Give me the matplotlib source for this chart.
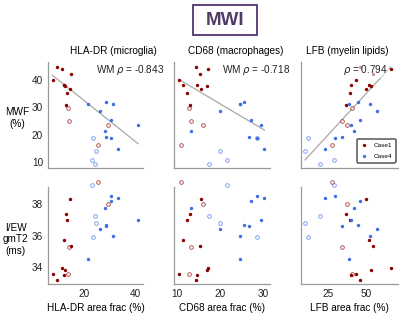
import numpy as np
import matplotlib
matplotlib.use('Agg')
import matplotlib.pyplot as plt
from matplotlib.patches import Rectangle
from matplotlib.lines import Line2D

plt.rcParams['font.family'] = ['Liberation Sans', 'DejaVu Sans']
plt.rcParams['mathtext.fontset'] = 'dejavusans'

# ---------------- data (per sample) ----------------
# Case1, white matter (filled)
c1_hla = [9.3, 11.3, 14.9, 7.5, 11.9, 12.0, 12.5, 14.5, 13.1, 13.0]
c1_cd68 = [14.4, 17.2, 15.4, 10.5, 11.5, 14.8, 17.1, 15.6, 12.4, 13.1]
c1_lfb = [46.3, 66.3, 54.8, 43.7, 52.3, 40.2, 53.6, 50.0, 39.7, 36.8]
c1_mwf = [44.6, 43.9, 42.2, 39.9, 38.2, 38.1, 37.9, 36.6, 35.3, 31.0]
c1_gmt2 = [33.22, 33.94, 35.37, 33.56, 35.75, 33.52, 33.84, 38.31, 36.98, 37.36]
# Case1, other (open)
c1o_hla = [25.5, 29.5, 14.1, 13.7]
c1o_cd68 = [10.9, 16.0, 13.3, 12.9]
c1o_lfb = [27.8, 37.5, 34.2, 41.2]
c1o_mwf = [16.4, 23.5, 25.1, 29.7]
c1o_gmt2 = [39.39, 37.99, 35.28, 33.61]
# Case4, white matter (filled)
c4_hla = [21.6, 31.5, 28.6, 26.3, 30.5, 41.3, 28.2, 28.6, 30.5, 33.5]
c4_cd68 = [24.5, 24.5, 25.4, 19.9, 27.2, 29.5, 13.4, 26.7, 28.5, 30.2]
c4_lfb = [38.9, 52.8, 44.6, 57.5, 46.3, 40.3, 42.4, 34.2, 29.6, 23.5]
c4_mwf = [31.2, 31.2, 31.8, 28.6, 25.2, 23.7, 21.5, 19.3, 18.9, 14.7]
c4_gmt2 = [34.51, 35.97, 36.67, 36.40, 38.22, 37.02, 37.74, 36.60, 38.54, 38.40]
# Case4, other (open)
c4o_hla = [23.4, 24.6, 23.2, 24.3]
c4o_cd68 = [28.5, 20.0, 21.7, 17.5]
c4o_lfb = [12.2, 10.1, 29.4, 19.9]
c4o_mwf = [18.8, 13.9, 10.6, 9.3]
c4o_gmt2 = [35.90, 36.79, 39.19, 37.27]

col_titles = ['HLA-DR (microglia)', 'CD68 (macrophages)', 'LFB (myelin lipids)']
x_labels = ['HLA-DR area frac (%)', 'CD68 area frac (%)', 'LFB area frac (%)']
rho_texts = [r'WM $\rho$ = -0.843', r'WM $\rho$ = -0.718', r'$\rho$ = 0.794']
x_ticks = [[20, 40], [10, 20, 30], [25, 50]]
mwf_ticks = [10, 20, 30, 40]
gmt2_ticks = [34, 36, 38]
legend_labels = ['Case1', 'Case4']

RED = '#8b0000'
BLUE = '#3f6fe6'
SPINE = '#9a9a9a'

xs = [(c1_hla, c1o_hla, c4_hla, c4o_hla),
      (c1_cd68, c1o_cd68, c4_cd68, c4o_cd68),
      (c1_lfb, c1o_lfb, c4_lfb, c4o_lfb)]
xlims = [(5.7, 43.2), (9.4, 31.5), (7.4, 71.2)]

W, H = 400, 313
fig = plt.figure(figsize=(4.0, 3.13), dpi=100)

lefts = [48, 174, 301]
widths = [95, 96, 97]
top_row = (62, 168)
bot_row = (187, 284)


def add_ax(l, w, row):
    t, b = row
    return fig.add_axes([l / W, (H - b) / H, w / W, (b - t) / H])


def style(ax):
    for s in ['top', 'right']:
        ax.spines[s].set_visible(False)
    for s in ['left', 'bottom']:
        ax.spines[s].set_color(SPINE)
        ax.spines[s].set_linewidth(0.9)
    ax.tick_params(length=0, labelsize=7.2, pad=3.5, colors='#222222')


FS = 7.2
for k in range(3):
    x1, x1o, x4, x4o = xs[k]
    for r, (yset, ylim, yt) in enumerate([
            ((c1_mwf, c1o_mwf, c4_mwf, c4o_mwf), (7.8, 46.6), mwf_ticks),
            ((c1_gmt2, c1o_gmt2, c4_gmt2, c4o_gmt2), (32.95, 39.09), gmt2_ticks)]):
        ax = add_ax(lefts[k], widths[k], top_row if r == 0 else bot_row)
        style(ax)
        y1, y1o, y4, y4o = yset
        ax.scatter(x1o, y1o, s=7, facecolors='white', edgecolors=RED,
                   linewidths=0.7, alpha=0.65, zorder=3, clip_on=False)
        ax.scatter(x4o, y4o, s=7, facecolors='white', edgecolors=BLUE,
                   linewidths=0.7, alpha=0.65, zorder=3, clip_on=False)
        ax.scatter(x1, y1, s=6, c=RED, linewidths=0, zorder=4, clip_on=False)
        ax.scatter(x4, y4, s=6, c=BLUE, linewidths=0, zorder=4, clip_on=False)
        ax.set_xlim(*xlims[k])
        ax.set_ylim(*ylim)
        ax.set_xticks(x_ticks[k])
        ax.set_yticks(yt)
        if k != 0:
            ax.set_yticklabels([])
        if r == 0:
            ax.set_xticklabels([])
            # regression on WM (filled) samples
            xw = np.array(x1 + x4)
            yw = np.array(y1 + y4)
            p = np.polyfit(xw, yw, 1)
            allx = np.array(x1 + x1o + x4 + x4o)
            xx = np.array([allx.min(), allx.max()])
            ax.plot(xx, np.polyval(p, xx), color='#a8a8a8', lw=0.9, zorder=2)
            txt_x = [0.50, 0.50, 0.435][k]
            ax.text(txt_x, 0.925, rho_texts[k], transform=ax.transAxes,
                    fontsize=FS, ha='left', va='center', clip_on=False,
                    zorder=5, color='#222222',
                    bbox=dict(boxstyle='square,pad=0.1', fc='white',
                              ec='none', alpha=0.6))
            if k == 0:
                ax.text(-0.32, 0.47, 'MWF\n(%)', transform=ax.transAxes,
                        fontsize=FS, ha='center', va='center',
                        linespacing=1.25)
            if k == 2:
                handles = [Line2D([], [], marker='o', ls='none', color=RED,
                                  markersize=2.4, markeredgewidth=0),
                           Line2D([], [], marker='o', ls='none', color=BLUE,
                                  markersize=2.4, markeredgewidth=0)]
                leg = ax.legend(handles, legend_labels, loc='lower right',
                                bbox_to_anchor=(0.975, 0.05), fontsize=4.6,
                                frameon=True, fancybox=True, handlelength=1.2,
                                handletextpad=0.9, borderpad=0.55,
                                labelspacing=0.9, borderaxespad=0)
                fr = leg.get_frame()
                fr.set_edgecolor('#555555')
                fr.set_linewidth(1.1)
                fr.set_alpha(1)
                leg.set_zorder(6)
        else:
            ax.set_xlabel(x_labels[k], fontsize=FS, labelpad=3)
            if k == 0:
                ax.text(-0.34, 0.46, 'I/EW\ngmT2\n(ms)',
                        transform=ax.transAxes, fontsize=FS, ha='center',
                        va='center', linespacing=1.2)

# column titles
for cx, t in zip([113, 236, 347.5], col_titles):
    fig.text(cx / W, (H - 51) / H, t, fontsize=FS, ha='center', va='center')

# MWI header box
fig.patches.append(Rectangle((193 / W, (H - 35) / H), 64 / W, 30 / H,
                             transform=fig.transFigure, fill=False,
                             ec='#5e4379', lw=1.4))
fig.text(225 / W, (H - 20.5) / H, 'MWI', fontsize=13.5, fontweight='bold',
         color='#4f3c66', ha='center', va='center')

fig.savefig('out.png', dpi=100)
